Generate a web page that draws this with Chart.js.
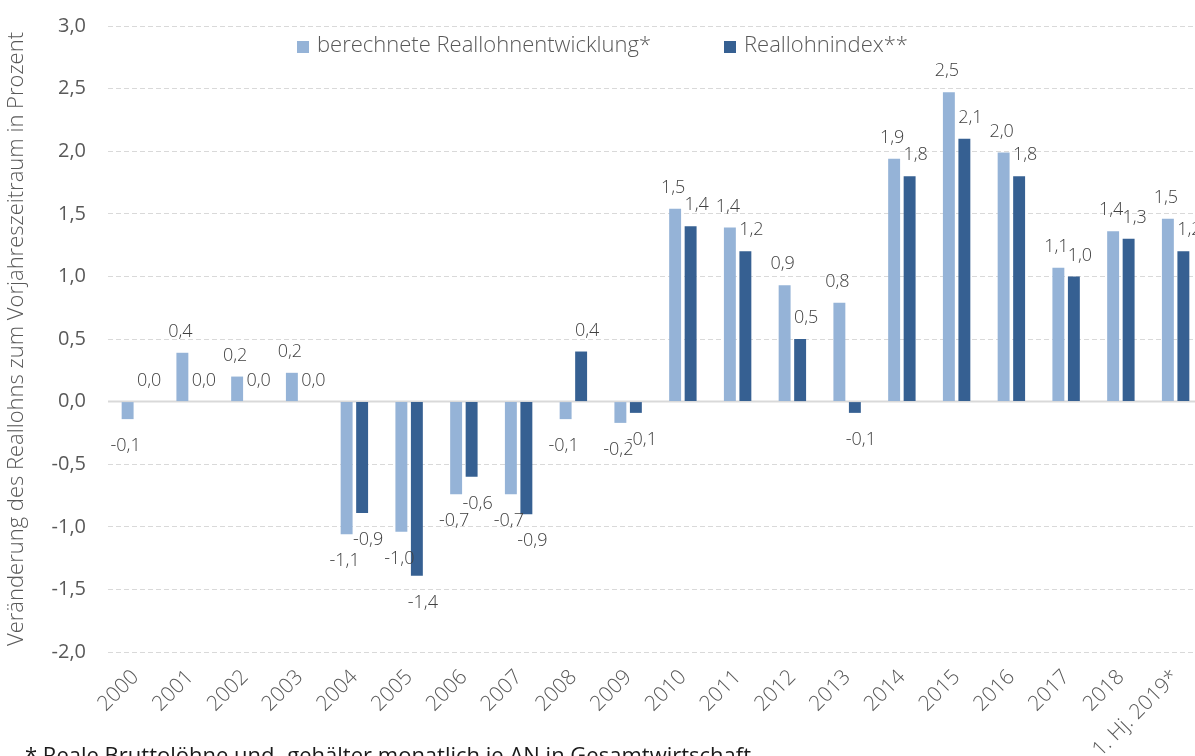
<!DOCTYPE html>
<html>
<head>
<meta charset="utf-8">
<script src="https://cdn.jsdelivr.net/npm/chart.js@4"></script>
<style>
  html, body { margin: 0; padding: 0; background: #ffffff; overflow: hidden; width: 1195px; height: 756px; }
  canvas { display: block; margin-top: -8px; }
</style>
</head>
<body>
<canvas id="c" width="1203" height="764"></canvas>
<script>
const categories = ['2000','2001','2002','2003','2004','2005','2006','2007','2008','2009','2010','2011','2012','2013','2014','2015','2016','2017','2018','1. Hj. 2019*'];
const berechnet = [-0.14, 0.39, 0.20, 0.23, -1.06, -1.04, -0.74, -0.74, -0.14, -0.17, 1.54, 1.39, 0.93, 0.79, 1.94, 2.47, 1.99, 1.07, 1.36, 1.46];
const reallohnindex = [0.0, 0.0, 0.0, 0.0, -0.89, -1.39, -0.60, -0.90, 0.40, -0.09, 1.40, 1.20, 0.50, -0.09, 1.80, 2.10, 1.80, 1.00, 1.30, 1.20];
const seriesNames = ['berechnete Reallohnentwicklung*', 'Reallohnindex**'];
const seriesColors = ['#95B3D7', '#366092'];
const yTitle = 'Veränderung des Reallohns zum Vorjahreszeitraum in Prozent';
const footnote = '* Reale Bruttolöhne und -gehälter monatlich je AN in Gesamtwirtschaft';

const FONT = "'Open Sans', 'Noto Sans', sans-serif";
const SHIFT = 8; // canvas is shifted up by this many pixels
const fmt = v => v.toFixed(1).replace('.', ',').replace('-0,0', '0,0');

const zeroLine = {
  id: 'zeroLine',
  beforeDatasetsDraw(chart) {
    const {ctx, chartArea, scales} = chart;
    const y = scales.y.getPixelForValue(0);
    ctx.save();
    ctx.strokeStyle = '#D9D9D9';
    ctx.lineWidth = 2;
    ctx.beginPath();
    ctx.moveTo(chartArea.left, y);
    ctx.lineTo(chartArea.right, y);
    ctx.stroke();
    ctx.restore();
  }
};

const valueLabels = {
  id: 'valueLabels',
  afterDatasetsDraw(chart) {
    const ctx = chart.ctx;
    ctx.save();
    ctx.font = "300 18px " + FONT;
    ctx.fillStyle = '#404040';
    ctx.textAlign = 'center';
    ctx.textBaseline = 'middle';
    chart.data.datasets.forEach((ds, i) => {
      const meta = chart.getDatasetMeta(i);
      meta.data.forEach((bar, j) => {
        const v = ds.data[j];
        const dx = i === 0 ? -2 : 6;
        const y = v >= 0 ? Math.min(bar.y, bar.base) - 21 : Math.max(bar.y, bar.base) + 27;
        ctx.fillText(fmt(v), bar.x + dx, y);
      });
    });
    ctx.restore();
  }
};

const customLegend = {
  id: 'customLegend',
  afterDraw(chart) {
    const ctx = chart.ctx;
    ctx.save();
    ctx.font = "300 22px " + FONT;
    ctx.textBaseline = 'middle';
    const starts = [297, 724];
    seriesNames.forEach((name, i) => {
      ctx.fillStyle = seriesColors[i];
      ctx.fillRect(starts[i], 41 + SHIFT, 12, 12);
      ctx.fillStyle = '#595959';
      ctx.fillText(name, starts[i] + 20, 46 + SHIFT);
    });
    ctx.font = "22px " + FONT;
    ctx.fillStyle = '#1a1a1a';
    ctx.textBaseline = 'alphabetic';
    ctx.fillText(footnote, 25, 763 + SHIFT);
    ctx.restore();
  }
};

new Chart(document.getElementById('c'), {
  type: 'bar',
  data: {
    labels: categories,
    datasets: [
      { label: seriesNames[0], data: berechnet, backgroundColor: seriesColors[0], categoryPercentage: 0.566, barPercentage: 0.77 },
      { label: seriesNames[1], data: reallohnindex, backgroundColor: seriesColors[1], categoryPercentage: 0.566, barPercentage: 0.77 }
    ]
  },
  options: {
    responsive: false,
    animation: false,
    layout: { padding: { top: 25, right: 0, bottom: 0, left: 0 } },
    plugins: { legend: { display: false }, tooltip: { enabled: false } },
    scales: {
      x: {
        grid: { display: false },
        border: { display: false },
        ticks: { autoSkip: false, maxRotation: 45, minRotation: 45, padding: 5, color: '#595959', font: { family: FONT, size: 21, weight: 300 } },
        afterFit(s) { s.height = 104; }
      },
      y: {
        min: -2, max: 3,
        ticks: { stepSize: 0.5, padding: 22, color: '#595959', font: { family: FONT, size: 20 }, callback: v => fmt(v) },
        grid: { drawTicks: false, color: ctx => (ctx.tick && ctx.tick.value === 0) ? 'rgba(0,0,0,0)' : '#D9D9D9', lineWidth: 1 },
        border: { display: false, dash: [5, 3] },
        title: { display: true, text: yTitle, color: '#595959', font: { family: FONT, size: 22, weight: 300 }, padding: { top: 4, bottom: 0 } },
        afterFit(s) { s.width = 108; }
      }
    }
  },
  plugins: [zeroLine, valueLabels, customLegend]
});
</script>
</body>
</html>
